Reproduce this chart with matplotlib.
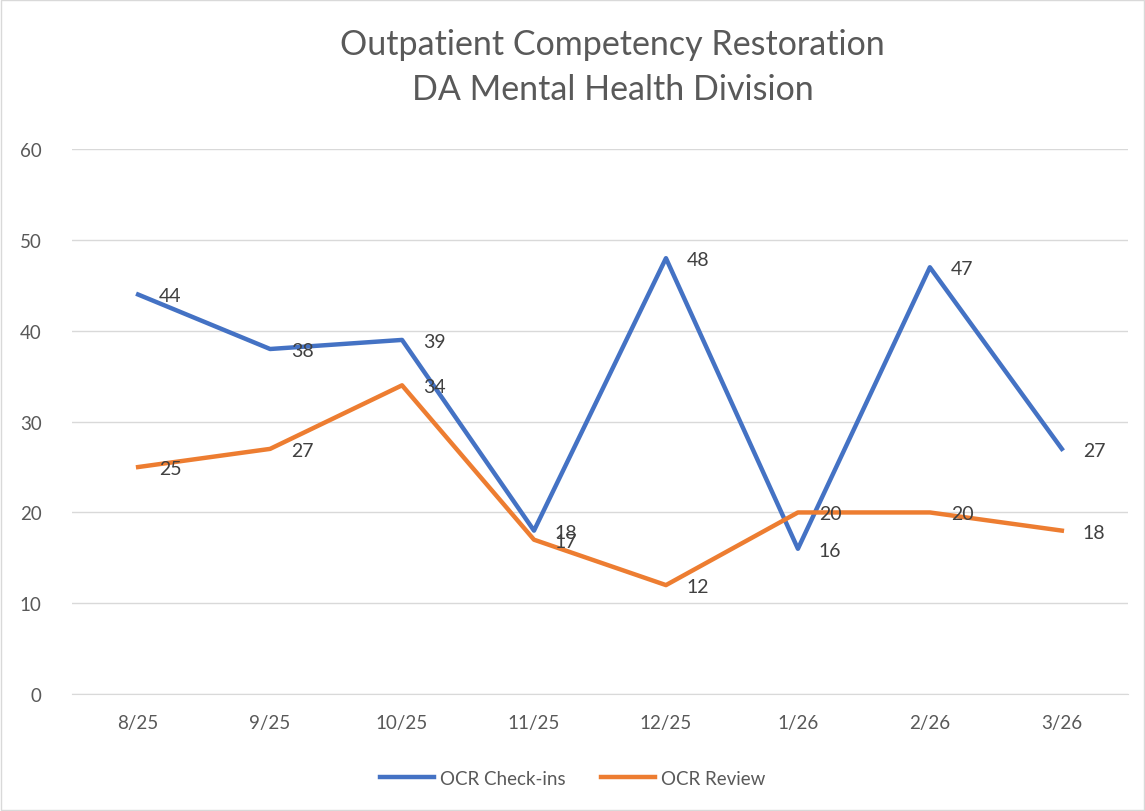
import matplotlib.pyplot as plt
from matplotlib.patches import Rectangle

months = ["8/25", "9/25", "10/25", "11/25", "12/25", "1/26", "2/26", "3/26"]
checkins = [44, 38, 39, 18, 48, 16, 47, 27]
review = [25, 27, 34, 17, 12, 20, 20, 18]

plt.rcParams['font.family'] = ['Lato', 'DejaVu Sans']

fig = plt.figure(figsize=(11.45, 8.12), dpi=100)
ax = fig.add_axes([0.063, 0.144, 0.922, 0.671])

x = list(range(len(months)))
blue = "#4472C4"
orange = "#ED7D31"
ax.plot(x, checkins, color=blue, lw=3.2, solid_joinstyle='round', label="OCR Check-ins", zorder=3)
ax.plot(x, review, color=orange, lw=3.2, solid_joinstyle='round', label="OCR Review", zorder=3)

for xi, v in zip(x, checkins):
    ax.annotate(str(v), (xi, v), xytext=(15, -1), textcoords='offset points',
                ha='left', va='center', fontsize=14, color='#404040', zorder=4)
for xi, v in zip(x, review):
    ax.annotate(str(v), (xi, v), xytext=(15, -1), textcoords='offset points',
                ha='left', va='center', fontsize=14, color='#404040', zorder=4)

ax.set_xlim(-0.5, 7.5)
ax.set_ylim(0, 60)
ax.set_yticks(range(0, 61, 10))
ax.set_xticks(x)
ax.set_xticklabels(months)
ax.grid(axis='y', color='#D9D9D9', lw=1)
ax.set_axisbelow(True)
for s in ['top', 'right', 'left']:
    ax.spines[s].set_visible(False)
ax.spines['bottom'].set_color('#D9D9D9')
ax.tick_params(axis='both', length=0, labelsize=13.5, colors='#595959')
ax.tick_params(axis='y', pad=22)
ax.tick_params(axis='x', pad=14)

fig.text(0.535, 0.944, "Outpatient Competency Restoration",
         ha='center', va='center', fontsize=24.5, color='#595959')
fig.text(0.535, 0.889, "DA Mental Health Division",
         ha='center', va='center', fontsize=24.5, color='#595959')

fig.legend(loc='center', bbox_to_anchor=(0.5, 0.04), ncol=2, frameon=False,
           fontsize=13.5, labelcolor='#595959', handlelength=2.9, columnspacing=1.9,
           handletextpad=0.3)

fig.patches.append(Rectangle((0.001, 0.001), 0.998, 0.998, transform=fig.transFigure,
                             fill=False, edgecolor='#D9D9D9', lw=1))

fig.savefig("out.png", dpi=100)
